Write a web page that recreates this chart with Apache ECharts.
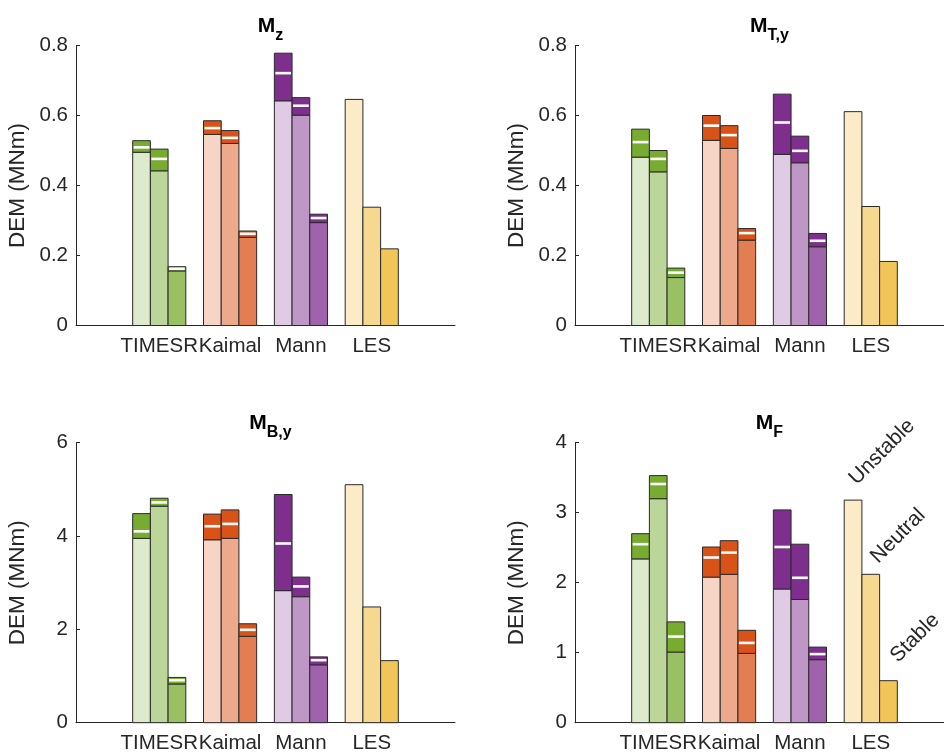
<!DOCTYPE html>
<html>
<head>
<meta charset="utf-8">
<script src="https://cdn.jsdelivr.net/npm/echarts@6/dist/echarts.min.js"></script>
<style>
  html, body { margin: 0; padding: 0; background: #fff; }
  #chart { width: 944px; height: 754px; }
</style>
</head>
<body>
<div id="chart"></div>
<script>
// groups on the x axis
var categories = ['TIMESR', 'Kaimal', 'Mann', 'LES'];
var stability = ['Unstable', 'Neutral', 'Stable'];

// rows: TIMESR, Kaimal, Mann   cols: unstable, neutral, stable
var mzMin  = [[0.495, 0.442, 0.156], [0.546, 0.520, 0.252], [0.642, 0.601, 0.294]];
var mzMean = [[0.509, 0.476, 0.162], [0.564, 0.536, 0.262], [0.721, 0.628, 0.307]];
var mzMax  = [[0.528, 0.504, 0.168], [0.585, 0.557, 0.270], [0.778, 0.651, 0.318]];
var mzLes  = [0.646, 0.338, 0.219];

var mtMin  = [[0.481, 0.439, 0.137], [0.529, 0.506, 0.244], [0.489, 0.465, 0.225]];
var mtMean = [[0.524, 0.476, 0.151], [0.571, 0.544, 0.264], [0.580, 0.499, 0.242]];
var mtMax  = [[0.561, 0.500, 0.164], [0.600, 0.571, 0.277], [0.661, 0.541, 0.263]];
var mtLes  = [0.611, 0.340, 0.183];

var mbMin  = [[3.95, 4.64, 0.83], [3.92, 3.95, 1.85], [2.83, 2.70, 1.24]];
var mbMean = [[4.10, 4.72, 0.91], [4.21, 4.26, 1.99], [3.84, 2.92, 1.34]];
var mbMax  = [[4.48, 4.81, 0.97], [4.47, 4.56, 2.12], [4.89, 3.12, 1.41]];
var mbLes  = [5.10, 2.48, 1.33];

var mfMin  = [[2.34, 3.20, 1.01], [2.08, 2.12, 0.99], [1.91, 1.76, 0.90]];
var mfMean = [[2.55, 3.41, 1.23], [2.36, 2.43, 1.14], [2.51, 2.07, 0.98]];
var mfMax  = [[2.70, 3.53, 1.44], [2.51, 2.60, 1.32], [3.04, 2.55, 1.08]];
var mfLes  = [3.18, 2.12, 0.60];

var yMaxes = [0.8, 0.8, 6, 4];
var ySteps = [0.2, 0.2, 2, 1];
var titles = [['M', 'z'], ['M', 'T,y'], ['M', 'B,y'], ['M', 'F']];

var baseColors = [[119, 172, 48], [217, 83, 25], [126, 47, 142], [237, 177, 32]];
var tints = [0.25, 0.5, 0.75];
var barW = 0.25;
var ink = '#262626';
var font = 'Liberation Sans';

function mix(rgb, t) {
  return 'rgb(' + rgb.map(function (v) { return Math.round(255 - t * (255 - v)); }).join(',') + ')';
}

function buildData(mins, means, maxs, les) {
  var out = [];
  for (var g = 0; g < 3; g++) {
    for (var c = 0; c < 3; c++) {
      out.push([g + 1, c, mins[g][c], means[g][c], maxs[g][c], g]);
    }
  }
  for (var k = 0; k < 3; k++) out.push([4, k, les[k], null, les[k], 3]);
  return out;
}

var panelData = [
  buildData(mzMin, mzMean, mzMax, mzLes),
  buildData(mtMin, mtMean, mtMax, mtLes),
  buildData(mbMin, mbMean, mbMax, mbLes),
  buildData(mfMin, mfMean, mfMax, mfLes)
];

function renderBar(params, api) {
  var c = api.value(1), g = api.value(5);
  var x = api.value(0) + (c - 1) * barW;
  var lo = api.value(2), mean = api.value(3), hi = api.value(4);
  var a = api.coord([x - barW / 2, 0]);
  var b = api.coord([x + barW / 2, lo]);
  var t = api.coord([x, hi]);
  var w = b[0] - a[0];
  var kids = [{
    type: 'rect',
    shape: { x: a[0], y: b[1], width: w, height: a[1] - b[1] },
    style: { fill: mix(baseColors[g], tints[c]), stroke: '#2a2a2a', lineWidth: 1 }
  }];
  if (hi > lo) {
    kids.push({
      type: 'rect',
      shape: { x: a[0], y: t[1], width: w, height: b[1] - t[1] },
      style: { fill: mix(baseColors[g], 1), stroke: '#2a2a2a', lineWidth: 1 }
    });
  }
  if (!isNaN(mean)) {
    var m = api.coord([x, mean]);
    kids.push({
      type: 'line',
      shape: { x1: a[0] + 1, y1: m[1], x2: a[0] + w - 1, y2: m[1] },
      style: { stroke: '#fff', lineWidth: 2.6 }
    });
  }
  return { type: 'group', children: kids };
}

// panel placement
var lefts = [76, 575, 76, 575];
var tops = [45.5, 45.5, 442.7, 442.7];
var plotW = 379, plotH = 280;

var grids = [], xAxes = [], yAxes = [], series = [], titleList = [];
for (var i = 0; i < 4; i++) {
  grids.push({ left: lefts[i], top: tops[i], width: plotW, height: plotH, containLabel: false, outerBoundsMode: 'none' });
  xAxes.push({
    gridIndex: i, type: 'value', min: -0.175, max: 5.175,
    axisLine: { show: true, onZero: false, lineStyle: { color: ink, width: 1 } },
    axisTick: { show: true, inside: true, length: 4, customValues: [1, 2, 3, 4], lineStyle: { color: ink } },
    axisLabel: {
      customValues: [1, 2, 3, 4], margin: 10, color: ink,
      fontFamily: font, fontSize: 20.5,
      formatter: function (v) { return categories[Math.round(v) - 1]; }
    },
    splitLine: { show: false }
  });
  yAxes.push({
    gridIndex: i, type: 'value', min: 0, max: yMaxes[i], interval: ySteps[i],
    name: 'DEM (MNm)', nameLocation: 'middle', nameGap: 47,
    nameTextStyle: { color: ink, fontFamily: font, fontSize: 22.5 },
    axisLine: { show: true, onZero: false, lineStyle: { color: ink, width: 1 } },
    axisTick: { show: true, inside: true, length: 4, lineStyle: { color: ink } },
    axisLabel: { margin: 8, color: ink, fontFamily: font, fontSize: 20.5 },
    splitLine: { show: false }
  });
  series.push({
    type: 'custom', xAxisIndex: i, yAxisIndex: i,
    renderItem: renderBar, data: panelData[i], clip: false
  });
  titleList.push({
    text: '{m|' + titles[i][0] + '}{s|' + titles[i][1] + '}',
    left: lefts[i] + plotW / 2, top: tops[i] - 35, textAlign: 'center',
    textStyle: {
      rich: {
        m: { fontFamily: font, fontWeight: 'bold', fontSize: 21, color: '#000', lineHeight: 28, verticalAlign: 'top' },
        s: { fontFamily: font, fontWeight: 'bold', fontSize: 16, color: '#000', lineHeight: 28, verticalAlign: 'bottom' }
      }
    }
  });
}

var labelPos = [[882, 452], [898, 536], [915, 638]];
var notes = stability.map(function (s, k) {
  return {
    type: 'text', x: labelPos[k][0], y: labelPos[k][1], rotation: Math.PI / 4,
    style: { text: s, fill: ink, font: '21px "Liberation Sans"', align: 'center', verticalAlign: 'middle' }
  };
});

var chart = echarts.init(document.getElementById('chart'));
chart.setOption({
  animation: false,
  backgroundColor: '#fff',
  title: titleList,
  grid: grids,
  xAxis: xAxes,
  yAxis: yAxes,
  series: series,
  graphic: notes
});
</script>
</body>
</html>
